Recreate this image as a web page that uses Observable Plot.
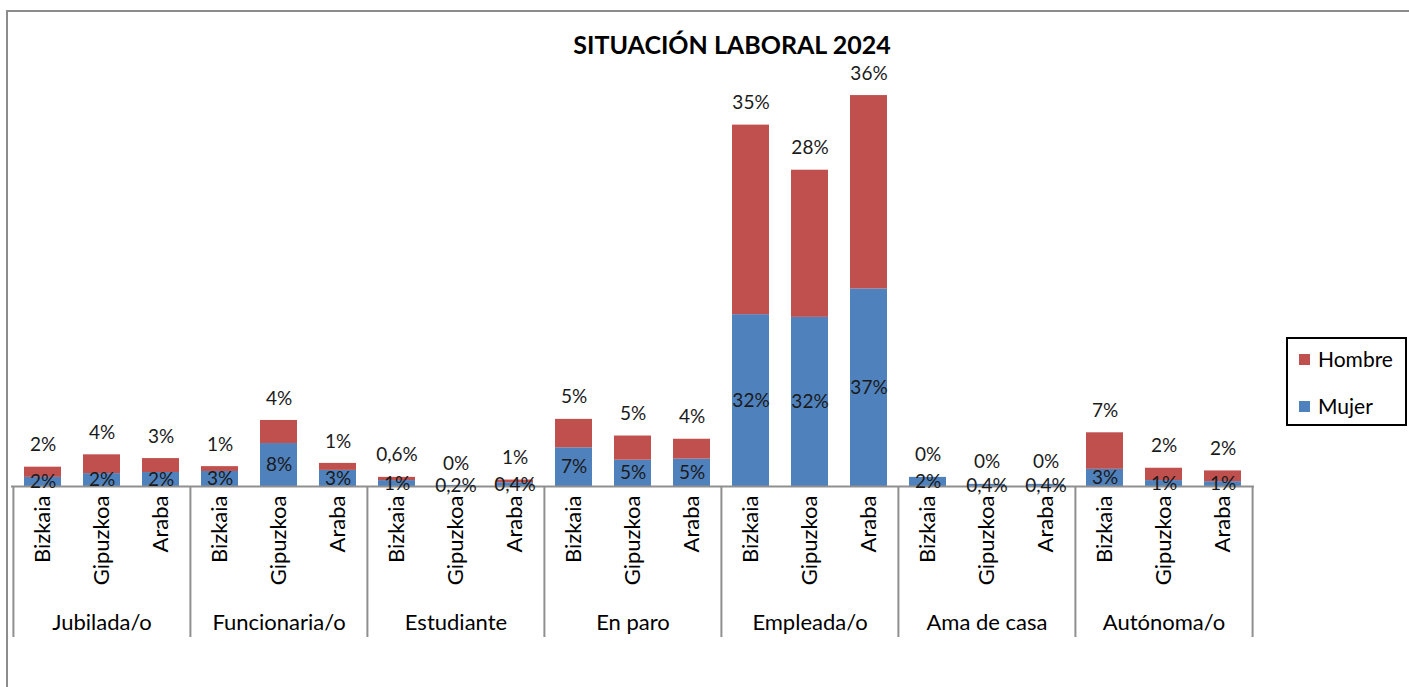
<!DOCTYPE html>
<html>
<head>
<meta charset="utf-8">
<script src="https://cdn.jsdelivr.net/npm/d3@7"></script>
<script src="https://cdn.jsdelivr.net/npm/@observablehq/plot@0.6"></script>
<style>
  html, body { margin: 0; padding: 0; background: #fff; }
  #wrap { position: relative; width: 1409px; height: 687px; overflow: hidden; font-family: Lato, "Open Sans", sans-serif; }
  #frame { position: absolute; left: 6px; top: 10px; width: 1500px; height: 800px; border-top: 2px solid #8c8c8c; border-left: 2px solid #8c8c8c; }
  #chart { position: absolute; left: 0; top: 0; }
  #title { position: absolute; left: 0; width: 1464px; top: 35px; text-align: center; font-weight: bold; font-size: 25px; line-height: 18px; color: #000; }
  #legend { position: absolute; left: 1286px; top: 337px; width: 117px; height: 85px; border: 2px solid #000; background: #fff; }
  .li { position: absolute; left: 11px; font-size: 21px; color: #000; line-height: 1; }
  .sw { display: inline-block; width: 11px; height: 11px; margin-right: 8px; vertical-align: 2px; }
</style>
</head>
<body>
<div id="wrap">
  <div id="frame"></div>
  <div id="chart"></div>
  <div id="title">SITUACIÓN LABORAL 2024</div>
  <div id="legend">
    <div class="li" style="top:9px"><span class="sw" style="background:#C0504D"></span>Hombre</div>
    <div class="li" style="top:56px"><span class="sw" style="background:#4F81BD"></span>Mujer</div>
  </div>
</div>
<script>
const groups = ["Jubilada/o", "Funcionaria/o", "Estudiante", "En paro", "Empleada/o", "Ama de casa", "Autónoma/o"];
const regions = ["Bizkaia", "Gipuzkoa", "Araba"];
const series = ["Hombre", "Mujer"];
const colors = ["#C0504D", "#4F81BD"];

// values (% of height), group by group, Bizkaia/Gipuzkoa/Araba
const mujer = [1.7, 2.4, 2.6,  2.8, 8.0, 3.0,  1.1, 0.2, 0.7,  7.2, 4.9, 5.1,  32.0, 31.5, 36.8,  1.7, 0.4, 0.4,  3.2, 1.1, 0.9];
const hombre = [1.9, 3.5, 2.6,  0.9, 4.3, 1.3,  0.6, 0.0, 0.5,  5.3, 4.5, 3.7,  35.3, 27.4, 36.0,  0.0, 0.0, 0.0,  6.8, 2.3, 2.0];
const mujerLabels = ["2%", "2%", "2%",  "3%", "8%", "3%",  "1%", "0,2%", "0,4%",  "7%", "5%", "5%",  "32%", "32%", "37%",  "2%", "0,4%", "0,4%",  "3%", "1%", "1%"];
const hombreLabels = ["2%", "4%", "3%",  "1%", "4%", "1%",  "0,6%", "0%", "1%",  "5%", "5%", "4%",  "35%", "28%", "36%",  "0%", "0%", "0%",  "7%", "2%", "2%"];

const rows = [];
groups.forEach((g, gi) => regions.forEach((r, ri) => {
  const i = gi * regions.length + ri;
  rows.push({key: g + "|" + r, group: g, region: r, mujer: mujer[i], hombre: hombre[i], ml: mujerLabels[i], hl: hombreLabels[i]});
}));
const keys = rows.map(d => d.key);
const long = [
  ...rows.map(d => ({key: d.key, sex: "Mujer", value: d.mujer})),
  ...rows.map(d => ({key: d.key, sex: "Hombre", value: d.hombre}))
];
const groupRows = groups.map(g => ({group: g, key: g + "|" + regions[1]}));
const firstRows = groups.map(g => ({key: g + "|" + regions[0]}));
const lastRow = [{key: groups[groups.length - 1] + "|" + regions[regions.length - 1]}];

const W = 1409, H = 687, ML = 11, MR = W - 1254, BASE = 486, PX = 5.37, YMAX = 90;
const step = (W - ML - MR) / keys.length;
const below = -151 / PX;

const chart = Plot.plot({
  width: W, height: H,
  marginLeft: ML, marginRight: MR,
  marginTop: BASE - YMAX * PX, marginBottom: H - BASE,
  style: {fontFamily: "Lato, 'Open Sans', sans-serif", background: "transparent", overflow: "visible"},
  x: {domain: keys, paddingInner: 0.37, paddingOuter: 0.185, axis: null},
  y: {domain: [0, YMAX], axis: null},
  color: {domain: series, range: colors},
  marks: [
    Plot.barY(long, {x: "key", y: "value", fill: "sex", order: ["Mujer", "Hombre"]}),
    Plot.ruleY([0], {stroke: "#8f8f8f", strokeWidth: 2}),
    Plot.ruleX(firstRows, {x: "key", y1: 0, y2: below, dx: -step / 2, stroke: "#8f8f8f", strokeWidth: 2}),
    Plot.ruleX(lastRow, {x: "key", y1: 0, y2: below, dx: step / 2, stroke: "#8f8f8f", strokeWidth: 2}),
    Plot.text(rows, {x: "key", y: d => d.mujer / 2, text: "ml", fontSize: 19, fill: "#1a1a1a"}),
    Plot.text(rows, {x: "key", y: d => d.mujer + d.hombre, text: "hl", dy: -22, fontSize: 19, fill: "#1a1a1a"}),
    Plot.text(rows, {x: "key", y: 0, text: "region", rotate: -90, textAnchor: "end", dy: 9, fontSize: 22, fill: "#000"}),
    Plot.text(groupRows, {x: "key", y: 0, text: "group", dy: 136, fontSize: 22, fill: "#000"})
  ]
});
document.getElementById("chart").appendChild(chart);
</script>
</body>
</html>
